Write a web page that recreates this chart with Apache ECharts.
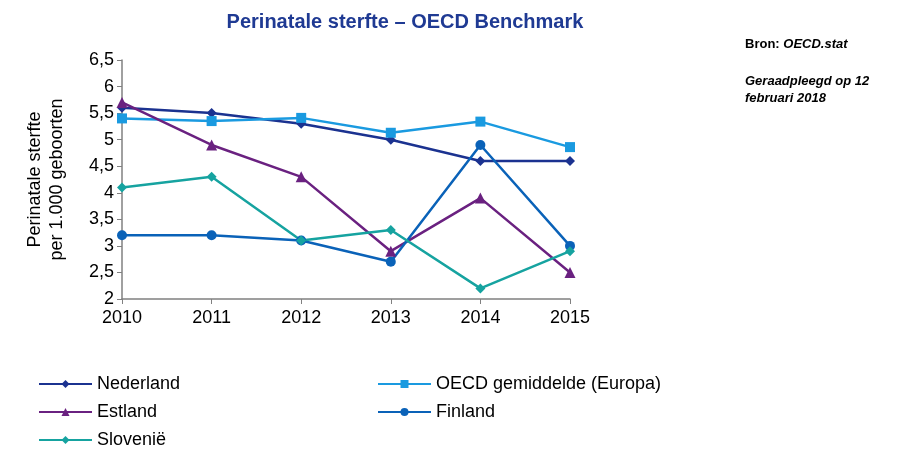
<!DOCTYPE html>
<html>
<head>
<meta charset="utf-8">
<script src="https://cdn.jsdelivr.net/npm/echarts@6/dist/echarts.min.js"></script>
<style>
  html, body { margin: 0; padding: 0; background: #fff; }
  #chart { width: 914px; height: 451px; }
</style>
</head>
<body>
<div id="chart"></div>
<script>
  // jaren en waarden (per 1.000 geboorten)
  const years = ["2010", "2011", "2012", "2013", "2014", "2015"];
  const nederland = [5.6, 5.5, 5.3, 5.0, 4.6, 4.6];
  const oecd = [5.4, 5.35, 5.41, 5.13, 5.34, 4.86];
  const estland = [5.7, 4.9, 4.3, 2.9, 3.9, 2.5];
  const finland = [3.2, 3.2, 3.1, 2.7, 4.9, 3.0];
  const slovenie = [4.1, 4.3, 3.1, 3.3, 2.2, 2.9];

  const font = "Liberation Sans, Arial, sans-serif";
  const chart = echarts.init(document.getElementById("chart"));

  function lijn(name, data, color, symbol, size) {
    return {
      name: name,
      type: "line",
      data: data,
      symbol: symbol,
      symbolSize: size,
      lineStyle: { color: color, width: 2.5 },
      itemStyle: { color: color },
      z: 3
    };
  }

  const legendBase = {
    orient: "vertical",
    padding: 0,
    height: 100,
    itemWidth: 53,
    itemHeight: 10,
    itemGap: 10,
    textStyle: { fontFamily: font, fontSize: 18, color: "#000" }
  };

  const option = {
    animation: false,
    title: {
      text: "Perinatale sterfte – OECD Benchmark",
      left: 400,
      top: 7,
      textAlign: "center",
      textStyle: { fontFamily: font, fontSize: 20, fontWeight: "bold", color: "#1f3a93" }
    },
    graphic: [
      {
        type: "text",
        left: 745,
        top: 38,
        style: {
          text: "{b|Bron: }{bi|OECD.stat}",
          rich: {
            b: { fontFamily: font, fontSize: 13, fontWeight: "bold", fill: "#000" },
            bi: { fontFamily: font, fontSize: 13, fontWeight: "bold", fontStyle: "italic", fill: "#000" }
          }
        }
      },
      {
        type: "text",
        left: 745,
        top: 73,
        style: {
          text: "Geraadpleegd op 12\nfebruari 2018",
          fontFamily: font,
          fontSize: 13,
          fontWeight: "bold",
          fontStyle: "italic",
          lineHeight: 17,
          fill: "#000"
        }
      }
    ],
    legend: [
      Object.assign({}, legendBase, { left: 38, top: 375, data: ["Nederland", "Estland", "Slovenië"] }),
      Object.assign({}, legendBase, { left: 377, top: 375, data: ["OECD gemiddelde (Europa)", "Finland"] })
    ],
    grid: { left: 122, right: 344, top: 60, bottom: 152 },
    xAxis: {
      type: "category",
      data: years,
      boundaryGap: false,
      axisLine: { lineStyle: { color: "#808080", width: 1.5 } },
      axisTick: { show: true, length: 5, lineStyle: { color: "#808080" } },
      axisLabel: { fontFamily: font, fontSize: 18, color: "#000", margin: 10 }
    },
    yAxis: {
      type: "value",
      min: 2,
      max: 6.5,
      interval: 0.5,
      name: "Perinatale sterfte\nper 1.000 geboorten",
      nameLocation: "middle",
      nameGap: 54,
      nameRotate: 90,
      nameTextStyle: { fontFamily: font, fontSize: 18, color: "#000", lineHeight: 22 },
      axisLine: { show: true, lineStyle: { color: "#808080", width: 1.5 } },
      axisTick: { show: true, length: 5, lineStyle: { color: "#808080" } },
      splitLine: { show: false },
      axisLabel: {
        fontFamily: font,
        fontSize: 18,
        color: "#000",
        margin: 8,
        formatter: (v) => String(v).replace(".", ",")
      }
    },
    series: [
      lijn("Nederland", nederland, "#1b3290", "diamond", 10),
      lijn("OECD gemiddelde (Europa)", oecd, "#1a9ae0", "rect", 10),
      lijn("Estland", estland, "#6a2180", "triangle", 11),
      lijn("Finland", finland, "#0a62b8", "circle", 10),
      lijn("Slovenië", slovenie, "#16a3a0", "diamond", 10)
    ]
  };

  chart.setOption(option);
</script>
</body>
</html>
